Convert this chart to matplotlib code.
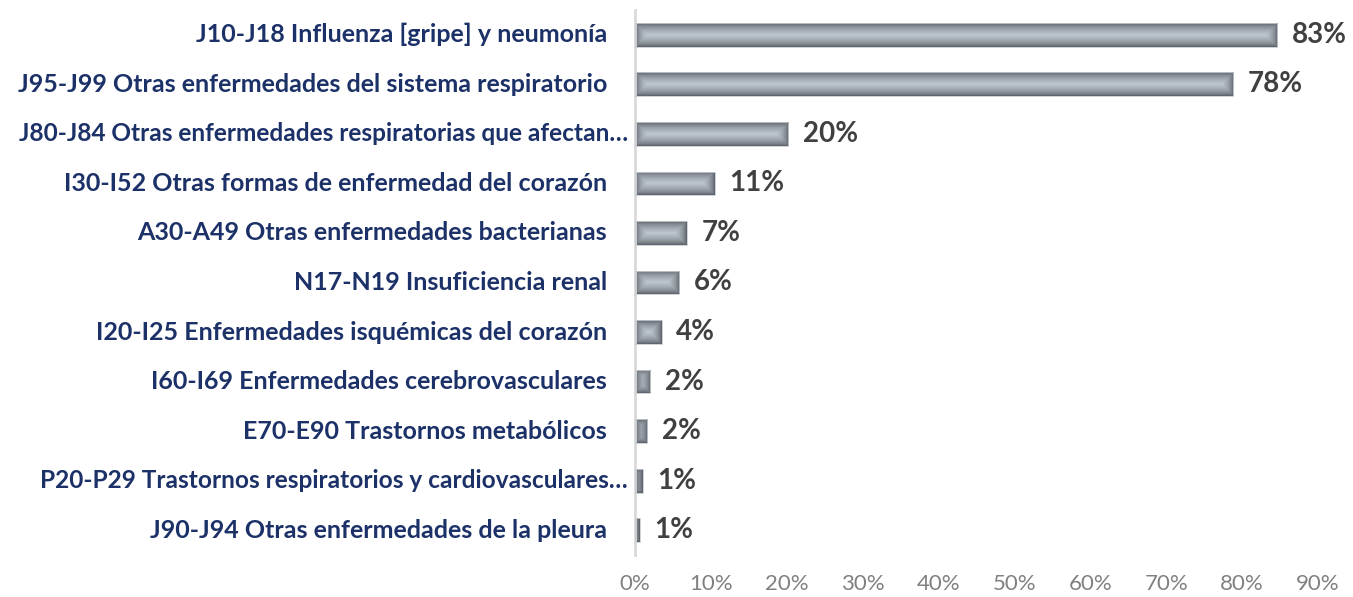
import numpy as np
import matplotlib
matplotlib.use('Agg')
import matplotlib.pyplot as plt
from matplotlib.ticker import FuncFormatter
from matplotlib.transforms import ScaledTranslation

# Causas de muerte (porcentaje)
labels = [
    'J10-J18 Influenza [gripe] y neumonía',
    'J95-J99 Otras enfermedades del sistema respiratorio',
    'J80-J84 Otras enfermedades respiratorias que afectan…',
    'I30-I52 Otras formas de enfermedad del corazón',
    'A30-A49 Otras enfermedades bacterianas',
    'N17-N19 Insuficiencia renal',
    'I20-I25 Enfermedades isquémicas del corazón',
    'I60-I69 Enfermedades cerebrovasculares',
    'E70-E90 Trastornos metabólicos',
    'P20-P29 Trastornos respiratorios y cardiovasculares…',
    'J90-J94 Otras enfermedades de la pleura',
]
values = [84.6, 78.8, 20.2, 10.5, 6.85, 5.8, 3.55, 2.0, 1.6, 1.0, 0.65]
value_labels = ['83%', '78%', '20%', '11%', '7%', '6%', '4%', '2%', '2%', '1%', '1%']
xticks = [0, 10, 20, 30, 40, 50, 60, 70, 80, 90]

label_color = '#1c3168'
value_color = '#404040'
tick_color = '#808080'
edge_rgb = np.array([0x4c, 0x51, 0x58]) / 255
center_rgb = np.array([0xbe, 0xc7, 0xd0]) / 255

W, H, DPI = 1353, 597, 100
fig = plt.figure(figsize=(W / DPI, H / DPI), dpi=DPI)
left, right, top, bottom = 635 / W, 1318 / W, 1 - 10 / H, 1 - 555 / H
ax = fig.add_axes([left, bottom, right - left, top - bottom])

n = len(values)
ypos = np.arange(n)
bar_h = 0.48
ax.set_xlim(0, 90)
ax.set_ylim(n - 0.5, -0.5)

bars = ax.barh(ypos, values, height=bar_h, color='none', edgecolor='#c8ccd0', linewidth=0.6, zorder=3)

# shaded fill (rectangular path gradient)
px_x = (right - left) * W / 90
px_y = (top - bottom) * H / n
for b, v, y, lab in zip(bars, values, ypos, value_labels):
    wpx = max(v * px_x, 1)
    hpx = bar_h * px_y
    nx = int(np.ceil(wpx)) * 2
    ny = int(np.ceil(hpx)) * 2
    xs = (np.arange(nx) + 0.5) / nx * wpx
    ys = (np.arange(ny) + 0.5) / ny * hpx
    dx = np.minimum(xs, wpx - xs)[None, :]
    dy = np.minimum(ys, hpx - ys)[:, None]
    t = np.clip(np.minimum(dx, dy) / (hpx / 2), 0, 1) ** 0.55
    img = edge_rgb + (center_rgb - edge_rgb) * t[..., None]
    im = ax.imshow(img, extent=(0, v, y + bar_h / 2, y - bar_h / 2),
                   aspect='auto', interpolation='bilinear', zorder=2)
    im.set_clip_path(b)
    ax.text(v + 1.9, y, lab, va='center', ha='left',
            fontsize=20, fontweight='bold', color=value_color, family='Lato')

# category labels (truncated ones overhang a bit to the right)
ax.set_yticks(ypos)
ax.set_yticklabels([])
for y, lab in zip(ypos, labels):
    trunc = lab.endswith('…')
    off = (-7 if trunc else -28) / DPI
    tr = ax.get_yaxis_transform() + ScaledTranslation(off, 0, fig.dpi_scale_trans)
    ax.text(0, y, lab, transform=tr, ha='right', va='center',
            fontsize=17.6 if trunc else 18, fontweight='bold',
            color=label_color, family='Lato')

ax.set_xticks(xticks)
ax.xaxis.set_major_formatter(FuncFormatter(lambda x, p: f'{x:.0f}%'))
for t in ax.get_xticklabels():
    t.set_family('Lato')
    t.set_fontsize(16)
    t.set_color(tick_color)
ax.tick_params(axis='y', length=0)
ax.tick_params(axis='x', length=0, pad=14)
for s in ['top', 'right', 'bottom']:
    ax.spines[s].set_visible(False)
ax.spines['left'].set_color('#d9d9d9')
ax.spines['left'].set_linewidth(2)

fig.savefig('out.png', dpi=DPI)
